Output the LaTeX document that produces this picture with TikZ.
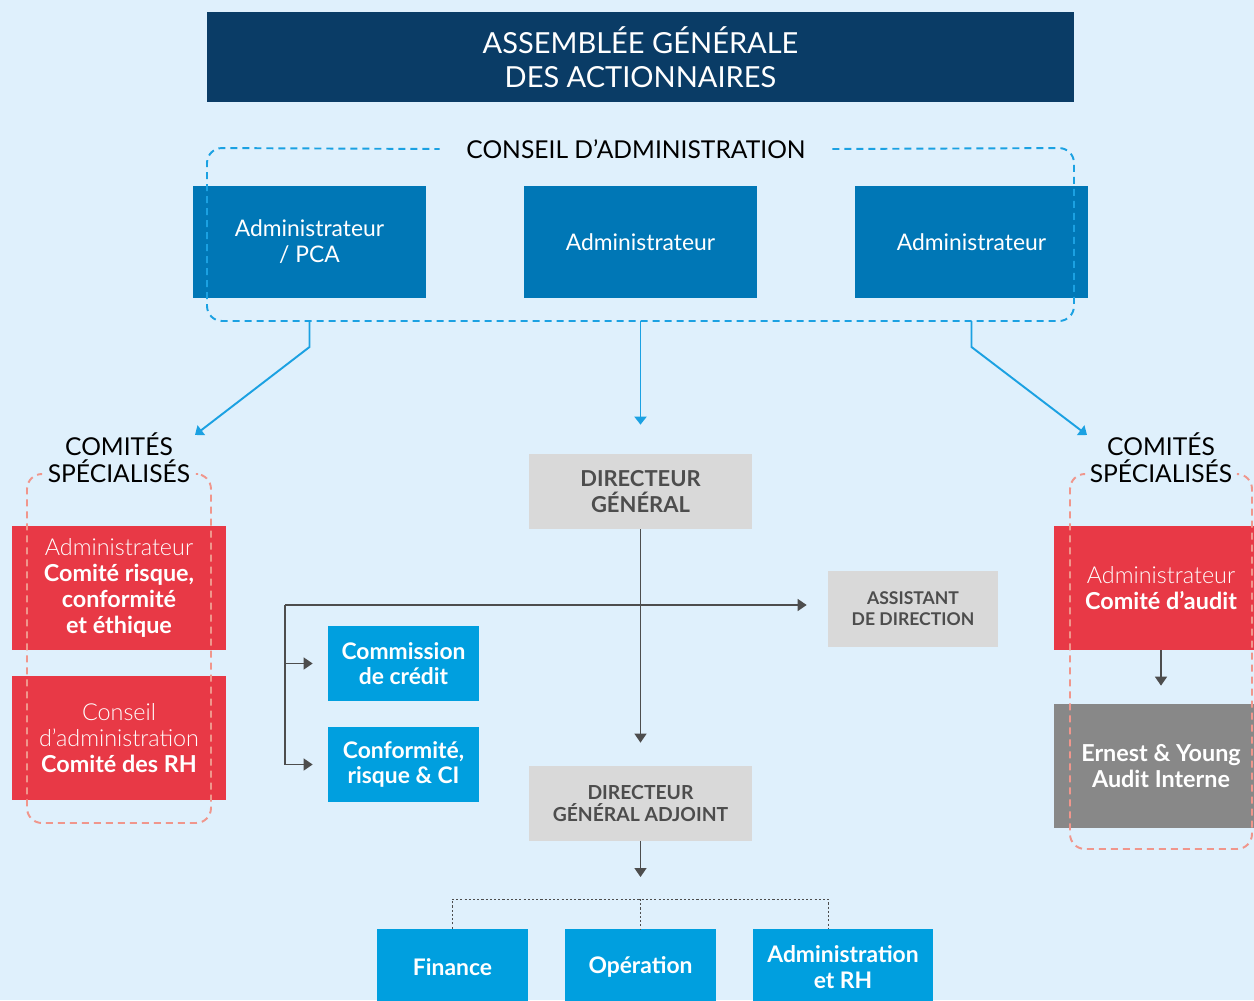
\documentclass[tikz,border=0pt]{standalone}
\usepackage{fontspec}
\setmainfont{Lato}
\newfontfamily\leger{Lato Light}
\usetikzlibrary{arrows.meta}
\definecolor{fond}{RGB}{223,240,252}
\definecolor{marine}{RGB}{10,60,102}
\definecolor{bleuadm}{RGB}{0,119,182}
\definecolor{bleuclair}{RGB}{0,159,223}
\definecolor{bleutrait}{RGB}{27,161,226}
\definecolor{rouge}{RGB}{232,57,70}
\definecolor{saumon}{RGB}{240,150,140}
\definecolor{grisclair}{RGB}{217,217,217}
\definecolor{grismoyen}{RGB}{136,136,136}
\definecolor{grisfonce}{RGB}{77,77,77}
\tikzset{
  boite/.style={inner sep=0pt, align=center, text=white, font=\fontsize{13}{14.7}\selectfont},
  admin/.style={boite, fill=bleuadm, minimum width=4.66cm, minimum height=2.24cm},
  comite/.style={boite, fill=rouge, minimum width=4.28cm, minimum height=2.48cm, font=\fontsize{13.3}{14.7}\selectfont},
  service/.style={boite, fill=bleuclair, minimum width=3.02cm, minimum height=1.5cm, font=\fontsize{13}{14.5}\selectfont\bfseries},
  direction/.style={boite, fill=grisclair, text=grisfonce, minimum width=4.46cm, minimum height=1.5cm},
  titre/.style={inner sep=0pt, align=center, text=black, font=\fontsize{14}{15.5}\selectfont},
  lien/.style={draw=bleutrait, line width=1.1pt, -{Triangle[width=0.24cm,length=0.16cm]}},
  fleche/.style={draw=grisfonce, line width=0.8pt, -{Triangle[width=0.24cm,length=0.18cm]}},
  cadre/.style={line width=1.1pt, dash pattern=on 0.14cm off 0.1cm, rounded corners=0.3cm},
  pointille/.style={draw=grisfonce, line width=0.5pt, dash pattern=on 1.2pt off 1.2pt}
}
\begin{document}
\begin{tikzpicture}
\useasboundingbox (0,0) rectangle (25.08,-20);
\clip (0,0) rectangle (25.08,-20);
\fill[fond] (0,0) rectangle (25.08,-20);

\node[boite, fill=marine, minimum width=17.34cm, minimum height=1.8cm, font=\fontsize{16.5}{19.5}\selectfont]
  (ag) at (12.81,-1.14) {ASSEMBLÉE GÉNÉRALE\\DES ACTIONNAIRES};

\node[titre, inner xsep=0.53cm] (conseil) at (12.72,-2.98) {CONSEIL D’ADMINISTRATION};
\node[admin] (adm1) at (6.19,-4.84) {Administrateur\\/ PCA};
\node[admin] (adm2) at (12.81,-4.84) {Administrateur};
\node[admin] (adm3) at (19.43,-4.84) {Administrateur};
\draw[cadre, bleutrait] (conseil.east) -- (21.48,-2.96) -- (21.48,-6.42) -- (4.14,-6.42) -- (4.14,-2.96) -- (conseil.west);
\coordinate (cbas) at (0,-6.42);

% comites de gauche
\node[titre] (comg) at (2.38,-9.16) {COMITÉS\\SPÉCIALISÉS};
\node[comite] (risque) at (2.38,-11.76) {{\leger Administrateur}\\\textbf{Comité risque,}\\\textbf{conformité}\\\textbf{et éthique}};
\node[comite] (rh) at (2.38,-14.76) {{\leger Conseil}\\{\leger d’administration}\\\textbf{Comité des RH}};
\draw[cadre, saumon] (0.8,-9.48) -- (0.54,-9.48) -- (0.54,-16.46) -- (4.22,-16.46) -- (4.22,-9.48) -- (3.96,-9.48);

% comites de droite
\node[titre] (comd) at (23.22,-9.16) {COMITÉS\\SPÉCIALISÉS};
\node[comite] (audit) at (23.22,-11.76) {{\leger Administrateur}\\\textbf{Comité d’audit}};
\node[comite, fill=grismoyen, font=\fontsize{13.3}{14.7}\selectfont\bfseries] (ey) at (23.22,-15.32) {Ernest \& Young\\Audit Interne};
\draw[cadre, saumon] (21.66,-9.48) -- (21.4,-9.48) -- (21.4,-16.98) -- (25.04,-16.98) -- (25.04,-9.48) -- (24.78,-9.48);
\draw[fleche, shorten >=0.36cm] (audit) -- (ey);

% direction
\node[direction, font=\fontsize{12.5}{14.5}\selectfont\bfseries] (dg) at (12.81,-9.83) {DIRECTEUR\\GÉNÉRAL};
\node[direction, minimum width=3.4cm, minimum height=1.52cm, font=\fontsize{10}{12}\selectfont\bfseries] (assist) at (18.26,-12.18) {ASSISTANT\\DE DIRECTION};
\node[service] (credit) at (8.07,-13.27) {Commission\\de crédit};
\node[service] (confo) at (8.07,-15.29) {Conformité,\\risque \& CI};
\node[direction, font=\fontsize{11}{12.5}\selectfont\bfseries] (dga) at (12.81,-16.07) {DIRECTEUR\\GÉNÉRAL ADJOINT};

\node[service, minimum height=1.52cm] (fin) at (9.05,-19.34) {Finance};
\node[service, minimum height=1.52cm] (ope) at (12.81,-19.34) {Opération};
\node[service, minimum height=1.52cm, minimum width=3.6cm] (rhs) at (16.86,-19.34) {Administration\\et RH};

% liens du conseil
\coordinate (pointg) at (3.9,-8.7);
\coordinate (pointd) at (21.74,-8.7);
\draw[lien] (adm1 |- cbas) -- ++(0,-0.52) -- (pointg);
\draw[lien, shorten >=0.58cm] (adm2 |- cbas) -- (dg);
\draw[lien] (adm3 |- cbas) -- ++(0,-0.52) -- (pointd);

% liens de la direction
\coordinate (branche) at (5.7,-12.1);
\draw[fleche, shorten >=0.46cm] (dg) -- (dga);
\draw[fleche, shorten >=0.42cm] (branche) -- (assist.west |- branche);
\draw[grisfonce, line width=0.8pt] (branche) -- (branche |- confo);
\draw[fleche, shorten >=0.3cm] (branche |- credit) -- (credit);
\draw[fleche, shorten >=0.3cm] (branche |- confo) -- (confo);
\draw[fleche] (dga) -- ++(0,-1.47);
\coordinate (repart) at (12.81,-17.98);
\draw[pointille] (fin.north -| 9.04,0) -- (9.04,-17.98) -- (16.56,-17.98) -- (16.56,-18.58);
\draw[pointille] (repart) -- (ope);
\end{tikzpicture}
\end{document}
